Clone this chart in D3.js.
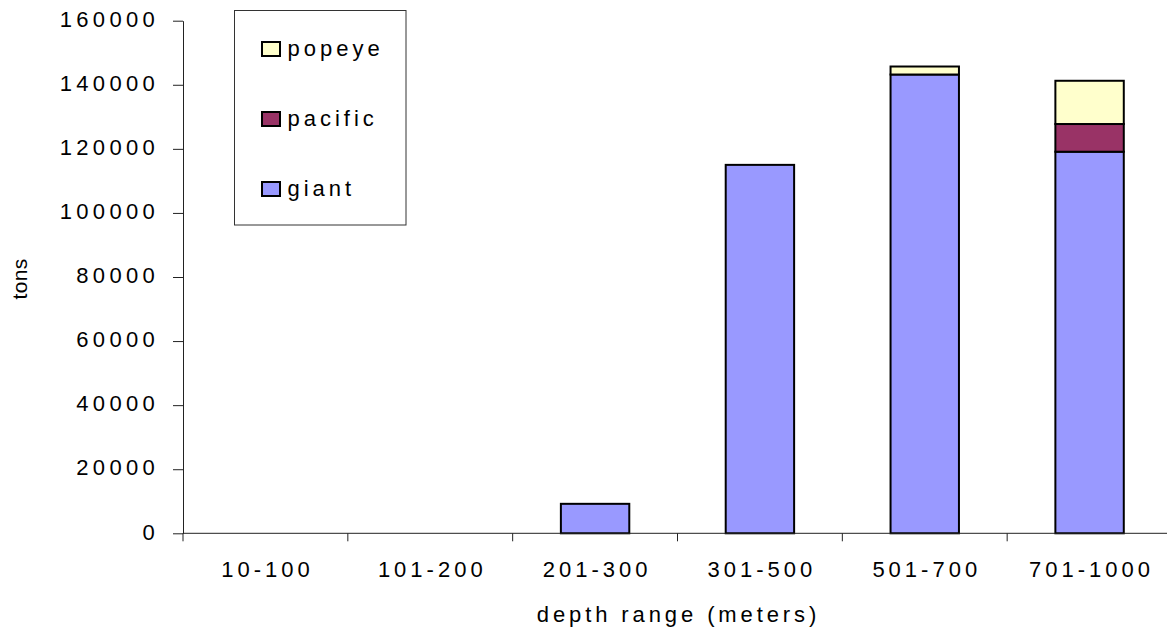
<!DOCTYPE html>
<html>
<head>
<meta charset="utf-8">
<script src="https://cdn.jsdelivr.net/npm/d3@7/dist/d3.min.js"></script>
<style>
  html, body { margin: 0; padding: 0; background: #fff; }
  svg { display: block; }
  text { font-family: "Liberation Sans", Arial, sans-serif; fill: #000; }
</style>
</head>
<body>
<svg id="chart" width="1167" height="632"></svg>
<script>
// Depth ranges (metres) and tonnage per squid species
const categories = ["10-100", "101-200", "201-300", "301-500", "501-700", "701-1000"];
const giant   = [0, 0, 9200, 115000, 143200, 119100];
const pacific = [0, 0, 0, 0, 0, 8650];
const popeye  = [0, 0, 0, 0, 2500, 13500];
const yTicks  = [0, 20000, 40000, 60000, 80000, 100000, 120000, 140000, 160000];

const seriesNames  = ["giant", "pacific", "popeye"];
const seriesColors = { giant: "#9999FF", pacific: "#993366", popeye: "#FFFFCC" };

const svg = d3.select("#chart");

const plot = { left: 183, right: 1172, top: 20.7, bottom: 533.3 };

const x = d3.scaleBand()
  .domain(categories)
  .range([plot.left, plot.right])
  .paddingInner(0.585)
  .paddingOuter(0.2925);

const y = d3.scaleLinear()
  .domain([0, 160000])
  .range([plot.bottom, plot.top]);

// Stack table built from the series arrays
const rows = categories.map((c, i) => ({ cat: c, giant: giant[i], pacific: pacific[i], popeye: popeye[i] }));
const stacked = d3.stack().keys(seriesNames)(rows);

// Bars
const layers = svg.append("g").selectAll("g")
  .data(stacked)
  .join("g")
  .attr("fill", d => seriesColors[d.key]);

layers.selectAll("rect")
  .data(d => d.filter(s => s[1] - s[0] > 0))
  .join("rect")
  .attr("x", d => x(d.data.cat))
  .attr("width", x.bandwidth())
  .attr("y", d => y(d[1]))
  .attr("height", d => y(d[0]) - y(d[1]))
  .attr("stroke", "#000")
  .attr("stroke-width", 2);

// Y axis
const yAxis = svg.append("g")
  .attr("transform", `translate(${plot.left},0)`)
  .call(d3.axisLeft(y).tickValues(yTicks).tickFormat(d3.format("d")).tickSize(10).tickPadding(14).tickSizeOuter(0));
yAxis.select(".domain").attr("stroke", "#222");
yAxis.selectAll(".tick line").attr("stroke", "#222");
yAxis.selectAll(".tick text")
  .attr("font-size", 22)
  .attr("letter-spacing", 4.3)
  .attr("font-family", "Liberation Sans, Arial, sans-serif")
  .attr("dy", "0.26em");

// X axis: ticks sit on category boundaries
const boundaries = d3.range(categories.length + 1).map(i => plot.left + i * x.step());
const xg = svg.append("g").attr("transform", `translate(0,${plot.bottom})`);
xg.append("line")
  .attr("x1", plot.left).attr("x2", plot.right)
  .attr("stroke", "#222");
xg.selectAll(".bt")
  .data(boundaries)
  .join("line")
  .attr("class", "bt")
  .attr("x1", d => d).attr("x2", d => d)
  .attr("y1", 0).attr("y2", 8)
  .attr("stroke", "#222");
xg.selectAll(".cl")
  .data(categories)
  .join("text")
  .attr("class", "cl")
  .attr("x", d => x(d) + x.bandwidth() / 2 + 2)
  .attr("y", 43.5)
  .attr("text-anchor", "middle")
  .attr("font-size", 22)
  .attr("letter-spacing", 4)
  .text(d => d);

// Axis titles
svg.append("text")
  .attr("x", (plot.left + plot.right) / 2 + 1)
  .attr("y", 621.5)
  .attr("text-anchor", "middle")
  .attr("font-size", 22)
  .attr("letter-spacing", 3.9)
  .text("depth range (meters)");

svg.append("text")
  .attr("transform", "translate(26.5,279) rotate(-90)")
  .attr("text-anchor", "middle")
  .attr("font-size", 21)
  .attr("letter-spacing", 0.3)
  .text("tons");

// Legend
const legend = svg.append("g");
legend.append("rect")
  .attr("x", 234.5).attr("y", 10.5)
  .attr("width", 171.5).attr("height", 214.5)
  .attr("fill", "#fff")
  .attr("stroke", "#333")
  .attr("stroke-width", 1);

const legendOrder = ["popeye", "pacific", "giant"];
const items = legend.selectAll(".li")
  .data(legendOrder)
  .join("g")
  .attr("class", "li")
  .attr("transform", (d, i) => `translate(0,${i * 70})`);
items.append("rect")
  .attr("x", 262).attr("y", 42)
  .attr("width", 18).attr("height", 14)
  .attr("fill", d => seriesColors[d])
  .attr("stroke", "#000")
  .attr("stroke-width", 2);
items.append("text")
  .attr("x", 287.5).attr("y", 55.5)
  .attr("font-size", 22)
  .attr("letter-spacing", 4)
  .text(d => d);
</script>
</body>
</html>
